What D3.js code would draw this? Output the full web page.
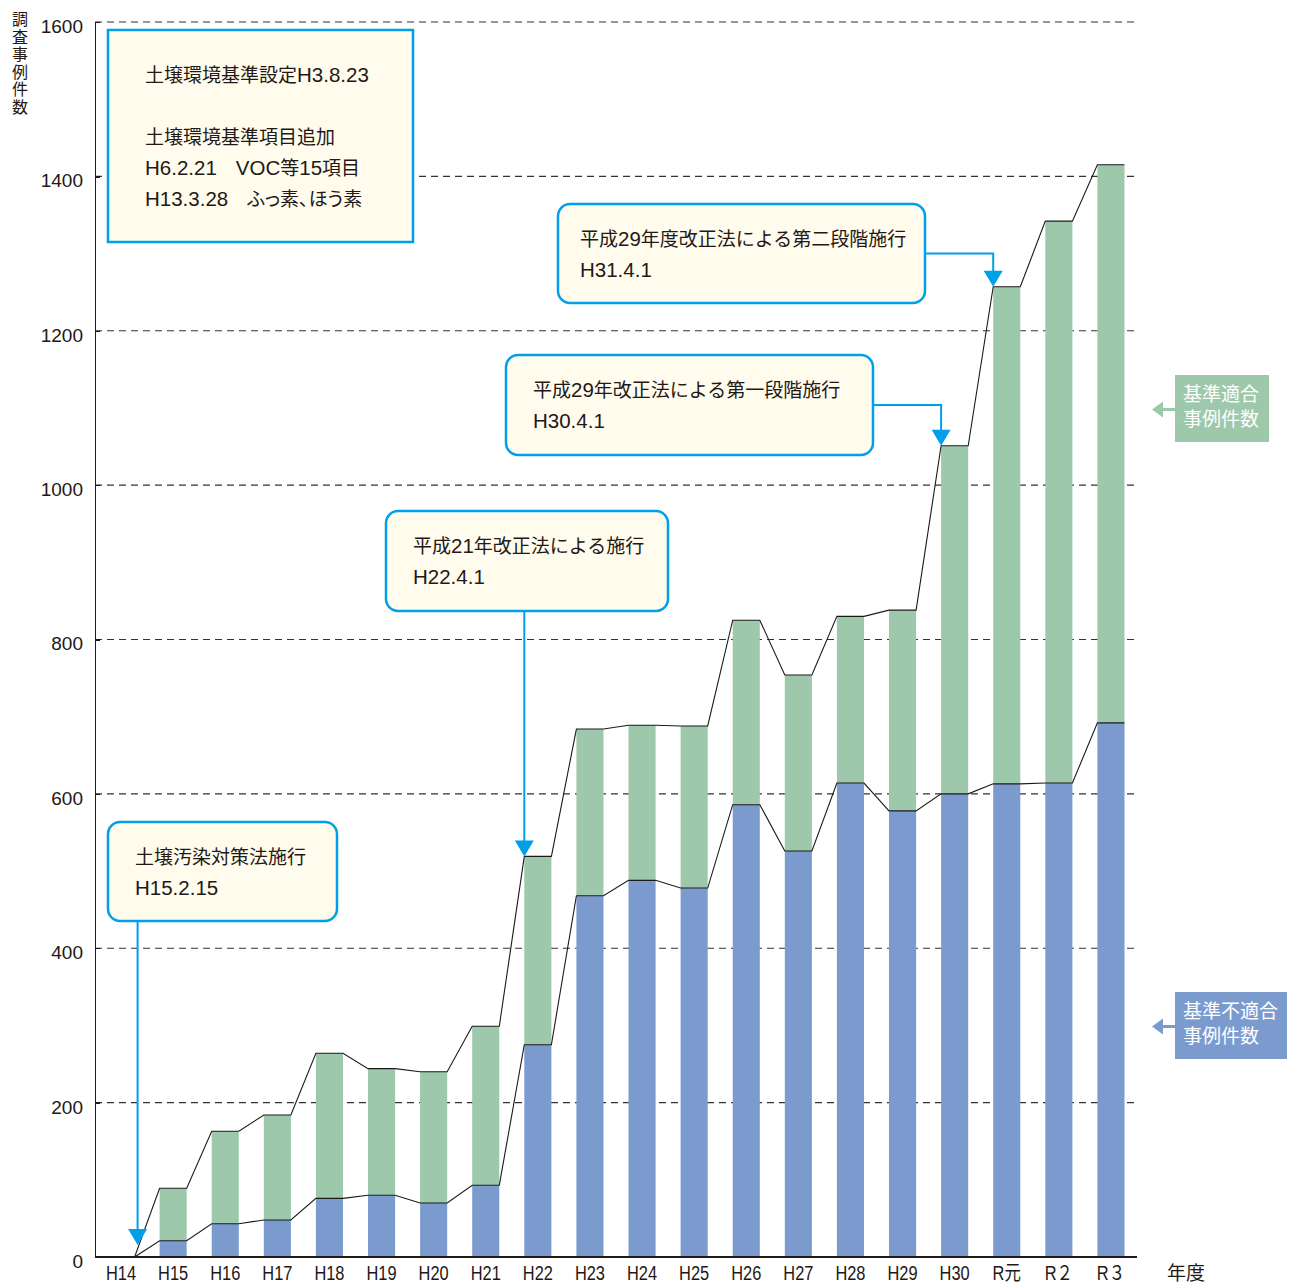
<!DOCTYPE html>
<meta charset="utf-8">
<script src="https://cdn.jsdelivr.net/npm/d3@7"></script>
<style>
body {
  margin: 0;
  background: #fff;
  font-family: "Liberation Sans", "Noto Sans CJK JP", sans-serif;
}
.grid line {
  stroke: #333;
  stroke-width: 1.2;
  stroke-dasharray: 7,5;
}
.axis path,
.axis line {
  stroke: #231815;
  stroke-width: 1.3;
  shape-rendering: crispEdges;
}
.note text {
  fill: #231815;
}
</style>
<body>
<script>

// years (x axis) and the two stacked series
var categories = ["H14", "H15", "H16", "H17", "H18", "H19", "H20", "H21", "H22", "H23",
                  "H24", "H25", "H26", "H27", "H28", "H29", "H30", "R元", "R２", "R３"];
// 基準不適合事例件数
var nonCompliant = [0, 21, 43, 48, 76, 80, 70, 93, 275, 468,
                    488, 478, 586, 526, 614, 578, 600, 613, 614, 692];
// 基準適合事例件数
var compliant = [0, 68, 120, 136, 188, 164, 170, 206, 244, 216,
                 201, 210, 239, 228, 216, 260, 451, 644, 728, 723];
var yTicks = [0, 200, 400, 600, 800, 1000, 1200, 1400, 1600];

var seriesKeys = ["nonCompliant", "compliant"];
var seriesLabels = [["基準不適合", "事例件数"], ["基準適合", "事例件数"]];
var colors = {nonCompliant: "#7b9bcf", compliant: "#9ec8ab"};

var notes = [
  {lines: ["土壌環境基準設定H3.8.23", "", "土壌環境基準項目追加", "H6.2.21\u3000VOC等15項目", "H13.3.28\u3000ふっ素、ほう素"], target: null},
  {lines: ["平成29年度改正法による第二段階施行", "H31.4.1"], target: "R元"},
  {lines: ["平成29年改正法による第一段階施行", "H30.4.1"], target: "H30"},
  {lines: ["平成21年改正法による施行", "H22.4.1"], target: "H22"},
  {lines: ["土壌汚染対策法施行", "H15.2.15"], target: "H14"}
];

var width = 1290, height = 1284;
var line = "#00a0e9";

var rows = categories.map(function(c, i) {
  return {year: c, nonCompliant: nonCompliant[i], compliant: compliant[i],
          total: nonCompliant[i] + compliant[i]};
});

var x = d3.scaleBand().domain(categories).range([95, 1137]).paddingInner(0.48).paddingOuter(0.24);
var y = d3.scaleLinear().domain([0, 1600]).range([1257, 22]);
var bw = x.bandwidth();

var svg = d3.select("body").append("svg")
    .attr("width", width)
    .attr("height", height);

// latin runs a bit larger than the kanji, like the original typesetting
function mixedText(sel, str, prop) {
  var parts = str.match(/[\x20-\x7e]+|[^\x20-\x7e]+/g) || [];
  parts.forEach(function(p) {
    var latin = /^[\x20-\x7e]+$/.test(p);
    var ts = sel.append("tspan")
      .style("font-size", latin ? "20.5px" : "19px")
      .style("font-family", latin ? "'Liberation Sans', sans-serif" : "'Noto Sans CJK JP', sans-serif")
      .text(p);
    if (prop && !latin) ts.style("font-feature-settings", "'palt'");
  });
}

// dashed gridlines
svg.append("g").attr("class", "grid")
  .selectAll("line")
  .data(yTicks.slice(1))
  .enter().append("line")
    .attr("x1", 95).attr("x2", 1138)
    .attr("y1", function(d) { return y(d); })
    .attr("y2", function(d) { return y(d); });

// stacked bars
var stacked = d3.stack().keys(seriesKeys)(rows);
svg.selectAll(".series")
  .data(stacked)
  .enter().append("g")
    .attr("class", "series")
    .attr("fill", function(s) { return colors[s.key]; })
  .selectAll("rect")
  .data(function(s) { return s; })
  .enter().append("rect")
    .attr("x", function(d) { return x(d.data.year); })
    .attr("y", function(d) { return y(d[1]); })
    .attr("width", bw)
    .attr("height", function(d) { return y(d[0]) - y(d[1]); });

// connecting lines along the bar tops
function cornerPoints(key) {
  var pts = [];
  rows.forEach(function(d) {
    pts.push([x(d.year), y(d[key])]);
    pts.push([x(d.year) + bw, y(d[key])]);
  });
  return pts.slice(1);
}
["nonCompliant", "total"].forEach(function(k) {
  svg.append("path")
    .attr("d", d3.line()(cornerPoints(k)))
    .attr("fill", "none")
    .attr("stroke", "#1a1a1a")
    .attr("stroke-width", 1.1);
});

// axes
svg.append("g")
    .attr("class", "axis")
    .attr("transform", "translate(95,0)")
    .call(d3.axisLeft(y).tickValues(yTicks).tickFormat(d3.format("d"))
            .tickSize(-5).tickSizeOuter(0).tickPadding(12))
    .selectAll("text")
    .attr("dy", "0.55em")
    .style("font-size", "19px")
    .style("font-family", "'Liberation Sans', sans-serif")
    .attr("fill", "#231815");

var xAxis = svg.append("g")
    .attr("class", "axis")
    .attr("transform", "translate(0," + y(0) + ")")
    .call(d3.axisBottom(x).tickSize(0).tickSizeOuter(0).tickPadding(9));
xAxis.select(".domain").attr("d", "M95,0H1137");
xAxis.selectAll("text")
    .style("font-size", "20px")
    .style("font-family", "'Liberation Sans', 'Noto Sans CJK JP', sans-serif")
    .attr("fill", "#231815")
    .each(function() {
      // the tick labels are set condensed
      var len = this.getComputedTextLength();
      d3.select(this).attr("textLength", len * 0.82).attr("lengthAdjust", "spacingAndGlyphs");
    });

// axis titles
svg.append("text")
    .attr("x", 20).attr("y", 11)
    .attr("fill", "#231815")
    .style("writing-mode", "vertical-rl")
    .style("text-orientation", "upright")
    .style("letter-spacing", "1.5px")
    .style("font-size", "16px")
    .style("font-family", "'Noto Sans CJK JP', sans-serif")
    .text("調査事例件数");
svg.append("text")
    .attr("x", 1167).attr("y", 1280)
    .attr("fill", "#231815")
    .style("font-size", "19px")
    .style("font-family", "'Noto Sans CJK JP', sans-serif")
    .text("年度");

// annotation boxes and arrows
var noteLayout = [
  {x: 108, y: 30, w: 305, h: 212, r: 0, first: 52, pad: 37, palt: true},
  {x: 558, y: 204, w: 367, h: 99, r: 12, first: 42, pad: 22},
  {x: 506, y: 355, w: 367, h: 100, r: 12, first: 42, pad: 27},
  {x: 386, y: 511, w: 282, h: 100, r: 12, first: 42, pad: 27},
  {x: 108, y: 822, w: 229, h: 99, r: 12, first: 42, pad: 27}
];

function arrowHead(g, tx, ty) {
  g.append("path")
    .attr("d", "M" + (tx - 9.5) + "," + (ty - 16) + "L" + (tx + 9.5) + "," + (ty - 16) + "L" + tx + "," + ty + "Z")
    .attr("fill", line);
}

notes.forEach(function(n, i) {
  var L = noteLayout[i];
  var g = svg.append("g").attr("class", "note");

  if (n.target) {
    var tx = x(n.target), ty = y(rows[categories.indexOf(n.target)].total);
    var pts;
    if (n.target == "H14") {
      tx = x(n.target) + bw + 3;
      ty = y(0) - 12;
      pts = [[tx, L.y + L.h], [tx, ty - 14]];
    } else if (tx > L.x + L.w) {
      var my = L.y + L.h / 2;
      pts = [[L.x + L.w, my], [tx, my], [tx, ty - 14]];
    } else {
      pts = [[tx, L.y + L.h], [tx, ty - 14]];
    }
    g.append("path")
      .attr("d", d3.line()(pts))
      .attr("fill", "none")
      .attr("stroke", line)
      .attr("stroke-width", 2);
    arrowHead(g, tx, ty);
  }

  g.append("rect")
    .attr("x", L.x).attr("y", L.y)
    .attr("width", L.w).attr("height", L.h)
    .attr("rx", L.r)
    .attr("fill", "#fffcee")
    .attr("stroke", line)
    .attr("stroke-width", 2.5);

  n.lines.forEach(function(t, j) {
    var txt = g.append("text")
      .attr("x", L.x + L.pad)
      .attr("y", L.y + L.first + j * 31);
    mixedText(txt, t, L.palt);
  });
});

// legend labels on the right
var legendLayout = [
  {key: "nonCompliant", x: 1175, y: 992, w: 112, h: 67},
  {key: "compliant", x: 1175, y: 375, w: 94, h: 67}
];
legendLayout.forEach(function(L, i) {
  var g = svg.append("g");
  var c = colors[L.key];
  var cy = L.y + L.h / 2 + 1;
  g.append("rect")
    .attr("x", L.x).attr("y", L.y)
    .attr("width", L.w).attr("height", L.h)
    .attr("fill", c);
  g.append("rect")
    .attr("x", L.x - 13).attr("y", cy - 1.5)
    .attr("width", 13).attr("height", 3)
    .attr("fill", c);
  g.append("path")
    .attr("d", "M" + (L.x - 23) + "," + cy + "L" + (L.x - 12) + "," + (cy - 8) + "L" + (L.x - 12) + "," + (cy + 8) + "Z")
    .attr("fill", c);
  seriesLabels[i].forEach(function(t, j) {
    g.append("text")
      .attr("x", L.x + 8)
      .attr("y", L.y + 26 + j * 25)
      .attr("fill", "#fff")
      .style("font-size", "19px")
      .style("font-family", "'Noto Sans CJK JP', sans-serif")
      .text(t);
  });
});

</script>
</body>
</html>
